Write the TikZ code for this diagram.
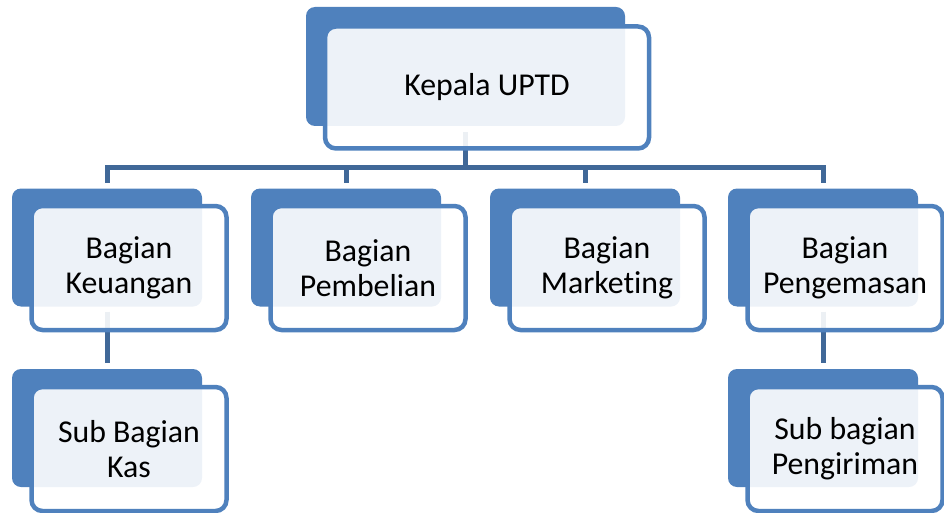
\documentclass[tikz,border=0pt]{standalone}
\usepackage{fontspec}
\setmainfont{Carlito}[Ligatures=NoCommon]
\definecolor{boxblue}{RGB}{79,129,189}
\definecolor{linkblue}{RGB}{64,104,152}
\begin{document}
\begin{tikzpicture}[x=1pt,y=-1pt,
  back/.style={draw=none, fill=boxblue, rounded corners=9pt, minimum width=190pt, minimum height=118pt, inner sep=0pt},
  front/.style={draw=boxblue, line width=4.5pt, fill=white, fill opacity=0.9, text opacity=1, rounded corners=11pt, minimum width=195pt, minimum height=124pt, align=center, font=\fontsize{31.8}{35}\selectfont, inner sep=0pt},
  conn/.style={draw=linkblue, line width=5pt}]
\useasboundingbox (0,0) rectangle (944,513);
% back boxes
\node[back, minimum width=319pt, minimum height=119pt] (tb) at (465.5,66.5) {};
\node[back] (b1) at (107,247.5) {};
\node[back] (b2) at (346,247.5) {};
\node[back] (b3) at (585,247.5) {};
\node[back] (b4) at (823,247.5) {};
\node[back] (s1b) at (107,428) {};
\node[back] (s4b) at (823,428) {};
% connectors
\coordinate (bus) at (0,167.5);
\draw[conn, shorten <=6pt] (tb.south) -- (tb.south |- bus);
\foreach \n in {b1,b2,b3,b4}
  \draw[conn, shorten >=5pt] (tb.south |- bus) -| (\n.north);
\draw[conn, shorten <=5pt, shorten >=6pt] (b1.south) -- (s1b.north);
\draw[conn, shorten <=5pt, shorten >=6pt] (b4.south) -- (s4b.north);
% front boxes
\node[front, minimum width=324pt, minimum height=122pt] (t) at (487,87.5) {Kepala UPTD};
\node[front] (f1) at (129,268) {Bagian\\Keuangan};
\node[front] (f2) at (368,268) {Bagian\\Pembelian};
\node[front] (f3) at (607,268) {Bagian\\Marketing};
\node[front] (f4) at (845,268) {Bagian\\Pengemasan};
\node[front] (s1) at (129,449) {Sub Bagian\\Kas};
\node[front] (s4) at (845,449) {Sub bagian\\Pengiriman};
\end{tikzpicture}
\end{document}
